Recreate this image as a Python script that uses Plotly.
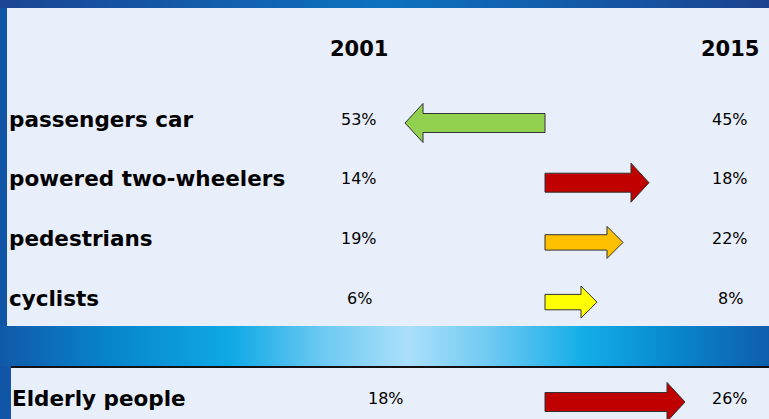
import plotly.graph_objects as go

# ---- data ----
categories = ["passengers car", "powered two-wheelers", "pedestrians", "cyclists"]
share_2001 = [53, 14, 19, 6]
share_2015 = [45, 18, 22, 8]
arrow_colors = ["#92d050", "#c00000", "#ffc000", "#ffff00"]
years = ["2001", "2015"]

extra_category = "Elderly people"
extra_2001 = 18
extra_2015 = 26
extra_color = "#c00000"

# ---- layout constants (pixel space) ----
W, H = 769, 419
FONT = "DejaVu Sans, Verdana, sans-serif"
PANEL = "#e8eefa"
row_y0, row_step = 119, 59.7
extra_y = 398
col_2001, col_2015, extra_col_2001 = 359, 730, 386
arrow_anchor = 545
px_per_point, max_len = 26, 140

fig = go.Figure()

# panels
fig.add_shape(type="rect", x0=7, x1=W, y0=8, y1=326, fillcolor=PANEL, line_width=0, layer="below")
fig.add_shape(type="rect", x0=11, x1=W, y0=367, y1=H, fillcolor=PANEL, line_width=0, layer="below")
fig.add_shape(type="line", x0=11, x1=W, y0=367, y1=367, line=dict(color="#111111", width=2))

# top gradient strip
fig.add_trace(go.Scatter(
    x=[0, W, W, 0, 0], y=[0, 0, 8, 8, 0], mode="lines", line_width=0, fill="toself",
    fillgradient=dict(type="horizontal", colorscale=[[0, "#1a4593"], [0.5, "#0c72bf"], [1, "#1b4290"]]),
    hoverinfo="skip", showlegend=False))
# middle band gradient
fig.add_trace(go.Scatter(
    x=[0, W, W, 0, 0], y=[326, 326, 366, 366, 326], mode="lines", line_width=0, fill="toself",
    fillgradient=dict(type="horizontal", colorscale=[
        [0, "#1159a8"], [0.14, "#0784cc"], [0.3, "#0fa9e6"], [0.42, "#6cc9f2"],
        [0.53, "#abdffa"], [0.64, "#6cc9f2"], [0.76, "#13ade8"], [0.88, "#0786cd"], [1, "#0f5eab"]]),
    hoverinfo="skip", showlegend=False))


def arrow(y, v0, v1, color):
    d = v1 - v0
    s = 1 if d >= 0 else -1
    L = min(px_per_point * abs(d), max_len)
    big = abs(d) >= 4
    hs, hh, hl = (9.5, 19.5, 18) if big else (7.7, 16, 16)
    yc = y + 4
    ax = arrow_anchor
    xb = ax + s * (L - hl)
    xs = [ax, xb, xb, ax + s * L, xb, xb, ax, ax]
    ys = [yc - hs, yc - hs, yc - hh, yc, yc + hh, yc + hs, yc + hs, yc - hs]
    fig.add_trace(go.Scatter(x=xs, y=ys, mode="lines", fill="toself", fillcolor=color,
                             line=dict(color="#333333", width=1), hoverinfo="skip", showlegend=False))


annotations = []
for yr, cx in zip(years, [col_2001, col_2015]):
    annotations.append(dict(x=cx, y=49, text=f"<b>{yr}</b>", showarrow=False,
                            font=dict(family=FONT, size=21, color="black")))

for i, (cat, a, b, c) in enumerate(zip(categories, share_2001, share_2015, arrow_colors)):
    y = row_y0 + row_step * i
    annotations.append(dict(x=7, y=y, text=f"<b>{cat}</b>", showarrow=False, xanchor="left",
                            font=dict(family=FONT, size=21.5, color="black")))
    annotations.append(dict(x=col_2001, y=y, text=f"{a}%", showarrow=False,
                            font=dict(family=FONT, size=16, color="black")))
    annotations.append(dict(x=col_2015, y=y, text=f"{b}%", showarrow=False,
                            font=dict(family=FONT, size=16, color="black")))
    arrow(y, a, b, c)

annotations.append(dict(x=10, y=extra_y, text=f"<b>{extra_category}</b>", showarrow=False, xanchor="left",
                        font=dict(family=FONT, size=21.5, color="black")))
annotations.append(dict(x=extra_col_2001, y=extra_y, text=f"{extra_2001}%", showarrow=False,
                        font=dict(family=FONT, size=16, color="black")))
annotations.append(dict(x=col_2015, y=extra_y, text=f"{extra_2015}%", showarrow=False,
                        font=dict(family=FONT, size=16, color="black")))
arrow(extra_y, extra_2001, extra_2015, extra_color)

fig.update_layout(
    width=W, height=H, margin=dict(l=0, r=0, t=0, b=0),
    paper_bgcolor="#1155a6", plot_bgcolor="rgba(0,0,0,0)",
    xaxis=dict(range=[0, W], visible=False, fixedrange=True),
    yaxis=dict(range=[H, 0], visible=False, fixedrange=True),
    annotations=annotations, showlegend=False,
)

fig.write_html("out.html", config={"displayModeBar": False},
               post_script="document.body.style.margin='0';document.body.style.overflow='hidden';")
